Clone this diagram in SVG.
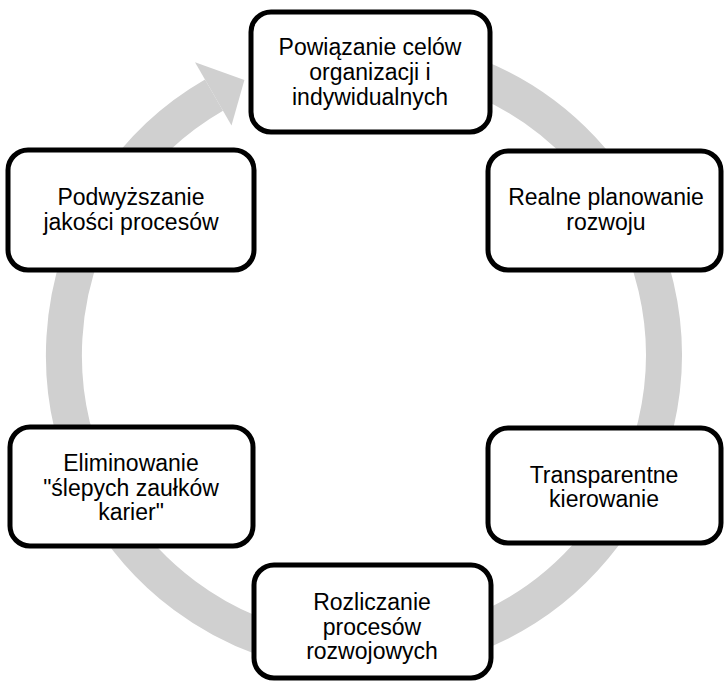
<svg xmlns="http://www.w3.org/2000/svg" width="724" height="681" viewBox="0 0 724 681">
<style>
.box{fill:#ffffff;stroke:#000000;stroke-width:5}
.t{font-family:"Liberation Sans",Arial,sans-serif;font-size:23px;fill:#000000;text-anchor:middle}
</style>
<rect width="724" height="681" fill="#ffffff"/>
<g id="connectors">
<path d="M 311.9 59.6 A 300 300 0 1 1 214 95.2" fill="none" stroke="#d0d0d0" stroke-width="36"/>
<polygon points="195,62.3 244.4,79.9 231.5,125.5" fill="#d0d0d0"/>
</g>
<g id="n1">
<rect class="box" x="251" y="12" width="239" height="120" rx="20"/>
<text class="t" x="370" y="55">Powiązanie celów</text>
<text class="t" x="370" y="80">organizacji i</text>
<text class="t" x="370" y="105">indywidualnych</text>
</g>
<g id="n2">
<rect class="box" x="488" y="151" width="233" height="119" rx="20"/>
<text class="t" x="606" y="205">Realne planowanie</text>
<text class="t" x="606" y="230">rozwoju</text>
</g>
<g id="n3">
<rect class="box" x="488" y="428" width="233" height="115" rx="20"/>
<text class="t" x="604" y="483">Transparentne</text>
<text class="t" x="604" y="507">kierowanie</text>
</g>
<g id="n4">
<rect class="box" x="254" y="565" width="237" height="113" rx="20"/>
<text class="t" x="372" y="610">Rozliczanie</text>
<text class="t" x="372" y="635">procesów</text>
<text class="t" x="372" y="659">rozwojowych</text>
</g>
<g id="n5">
<rect class="box" x="10" y="427" width="243" height="119" rx="20"/>
<text class="t" x="131" y="471">Eliminowanie</text>
<text class="t" x="131" y="496">"ślepych zaułków</text>
<text class="t" x="131" y="520">karier"</text>
</g>
<g id="n6">
<rect class="box" x="8" y="150" width="246" height="120" rx="20"/>
<text class="t" x="131" y="205">Podwyższanie</text>
<text class="t" x="131" y="230">jakości procesów</text>
</g>
</svg>
